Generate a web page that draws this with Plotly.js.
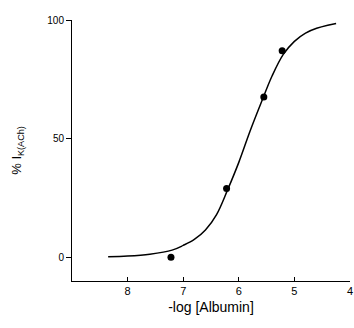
<!DOCTYPE html>
<html><head><meta charset="utf-8">
<script src="https://cdn.plot.ly/plotly-3.0.1.min.js"></script>
<style>html,body{margin:0;padding:0;background:#fff}#c{width:354px;height:328px}</style>
</head><body><div id="c"></div>
<script>
// Measured data points (-log [Albumin], % I K(ACh))
const pointX = [7.22, 6.22, 5.55, 5.22];
const pointY = [0, 29, 67.5, 87];
// Fitted curve
const curveX = [8.35, 8.0, 7.6, 7.2, 7.0, 6.8, 6.6, 6.4, 6.2, 6.0, 5.8, 5.6, 5.4, 5.2, 5.0, 4.8, 4.6, 4.4, 4.25];
const curveY = [0.2, 0.5, 1.3, 3, 5, 7.5, 11.5, 18, 28.5, 40, 53, 65, 76.5, 85.5, 91, 94.5, 96.5, 97.8, 98.5];
const xTicks = [8, 7, 6, 5, 4];
const yTicks = [0, 50, 100];

const font = {family: 'Liberation Sans, Arial, sans-serif', color: '#000'};
Plotly.newPlot('c', [
  {x: curveX, y: curveY, mode: 'lines', line: {color: '#000', width: 1.5, shape: 'spline'}, hoverinfo: 'skip'},
  {x: pointX, y: pointY, mode: 'markers', marker: {color: '#000', size: 7}}
], {
  width: 354, height: 328,
  margin: {l: 72, r: 4, t: 20, b: 47},
  showlegend: false,
  paper_bgcolor: '#fff', plot_bgcolor: '#fff',
  font: font,
  xaxis: {
    range: [9, 4], showgrid: false, zeroline: false, showline: true, linecolor: '#000', linewidth: 1,
    tickvals: xTicks, ticktext: xTicks.map(String), ticks: 'inside', ticklen: 4, tickcolor: '#000',
    tickfont: {size: 11, family: font.family, color: '#000'},
    title: {text: '-log [Albumin]', font: {size: 14, family: font.family, color: '#000'}, standoff: 5}
  },
  yaxis: {
    range: [-10, 100], showgrid: false, zeroline: false, showline: true, linecolor: '#000', linewidth: 1,
    tickvals: yTicks, ticktext: yTicks.map(String), ticks: 'outside', ticklen: 5, tickcolor: '#000',
    tickfont: {size: 10, family: font.family, color: '#000'},
    title: {text: '% I<sub>K(ACh)</sub>', font: {size: 13, family: font.family, color: '#000'}, standoff: 22}
  }
}, {displayModeBar: false, staticPlot: true});
</script></body></html>
